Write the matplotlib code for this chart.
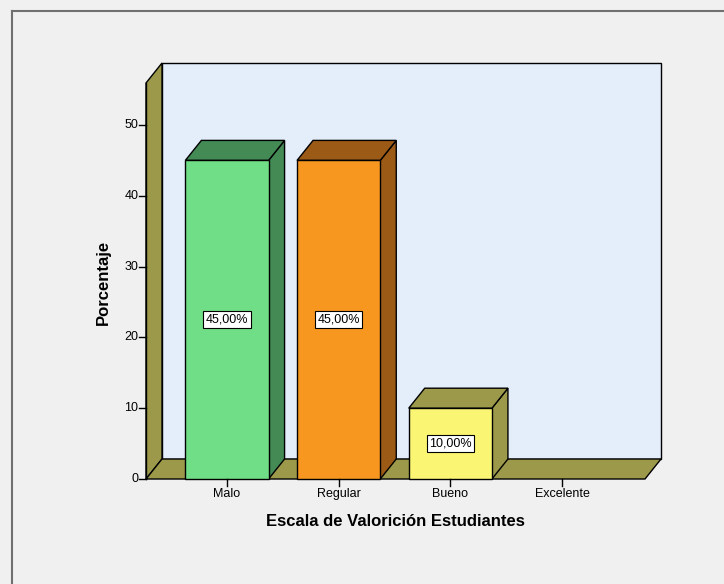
import numpy as np
import matplotlib
matplotlib.use("Agg")
import matplotlib.pyplot as plt
from matplotlib.patches import Polygon, Rectangle
from matplotlib.lines import Line2D

plt.rcParams['font.family'] = ['Liberation Sans', 'DejaVu Sans']

categories = ['Malo', 'Regular', 'Bueno', 'Excelente']
percentages = [45.0, 45.0, 10.0, 0.0]
value_labels = ['45,00%', '45,00%', '10,00%', None]
front_colors = ['#70de86', '#f7971f', '#faf673', '#70de86']
side_colors = ['#438a55', '#9b5a16', '#9c9a4a', '#438a55']
yticks = [0, 10, 20, 30, 40, 50]

wall_color = '#9c9a4a'
back_color = '#e3eefa'
bg = '#f0f0f0'

fig = plt.figure(figsize=(7.24, 5.84), dpi=100, facecolor=bg)
W, H = 724, 584
# axes: x from pixel 146 to 645, y=0 at pixel 479, 60 units up
px_per_y = 7.08
ax = fig.add_axes([146 / W, 1 - 479 / H, (645 - 146) / W, 60 * px_per_y / H])
ax.set_xlim(-0.725, 3.743)
ax.set_ylim(0, 60)
ax.axis('off')
ax.set_facecolor('none')

ux = (645 - 146) / (3.743 + 0.725)
ddx = 16 / ux          # depth in x (data units)
ddy = 20 / px_per_y    # depth in y (data units)
x0, x1 = -0.725, 3.743
ytop = (479 - 83) / px_per_y

lw = 1.0
# back wall
ax.add_patch(Rectangle((x0 + ddx, ddy), x1 - x0, ytop, facecolor=back_color,
                       edgecolor='black', lw=lw, clip_on=False, zorder=1))
# left wall
ax.add_patch(Polygon([(x0, 0), (x0, ytop), (x0 + ddx, ytop + ddy), (x0 + ddx, ddy)],
                     closed=True, facecolor=wall_color, edgecolor='black', lw=lw,
                     clip_on=False, zorder=2))
# floor
ax.add_patch(Polygon([(x0, 0), (x1, 0), (x1 + ddx, ddy), (x0 + ddx, ddy)],
                     closed=True, facecolor=wall_color, edgecolor='black', lw=lw,
                     clip_on=False, zorder=2))

bw = 0.745
for i, (v, fc, sc) in enumerate(zip(percentages, front_colors, side_colors)):
    if v <= 0:
        continue
    l, r = i - bw / 2, i + bw / 2
    ax.add_patch(Polygon([(r, 0), (r + ddx, ddy), (r + ddx, v + ddy), (r, v)],
                         closed=True, facecolor=sc, edgecolor='black', lw=lw,
                         clip_on=False, zorder=3))
    ax.add_patch(Polygon([(l, v), (r, v), (r + ddx, v + ddy), (l + ddx, v + ddy)],
                         closed=True, facecolor=sc, edgecolor='black', lw=lw,
                         clip_on=False, zorder=3))
    ax.add_patch(Rectangle((l, 0), bw, v, facecolor=fc, edgecolor='black', lw=lw,
                           clip_on=False, zorder=4))
    if value_labels[i]:
        ax.text(i, v / 2, value_labels[i], ha='center', va='center', fontsize=9,
                zorder=5, bbox=dict(boxstyle='square,pad=0.2', facecolor='white',
                                    edgecolor='black', lw=0.8))

# y axis line and ticks
ax.plot([x0, x0], [0, ytop], color='black', lw=1.0, clip_on=False, zorder=6)
tick_len = 7 / ux
for t in yticks:
    ax.plot([x0 - tick_len, x0], [t, t], color='black', lw=1.0, clip_on=False, zorder=6)
    ax.text(x0 - tick_len - 0.5 / ux, t, str(t), ha='right', va='center', fontsize=9)

# x ticks
xt_len = 7 / px_per_y
for i, c in enumerate(categories):
    ax.plot([i, i], [0, -xt_len], color='black', lw=1.0, clip_on=False, zorder=6)
    ax.text(i, -xt_len - 2 / px_per_y, c, ha='center', va='top', fontsize=9)

fig.text(395 / W, 1 - 522 / H, 'Escala de Valorición Estudiantes', ha='center',
         va='center', fontsize=12, fontweight='bold')
fig.text(103 / W, 1 - 282 / H, 'Porcentaje', ha='center', va='center', rotation=90,
         fontsize=12, fontweight='bold')

# outer border (top and left only)
fig.lines.append(Line2D([12 / W, 1], [1 - 11 / H, 1 - 11 / H], transform=fig.transFigure,
                        color='#707070', lw=1.5))
fig.lines.append(Line2D([12 / W, 12 / W], [0, 1 - 11 / H], transform=fig.transFigure,
                        color='#707070', lw=1.5))

fig.savefig('out.png', dpi=100, facecolor=bg)
